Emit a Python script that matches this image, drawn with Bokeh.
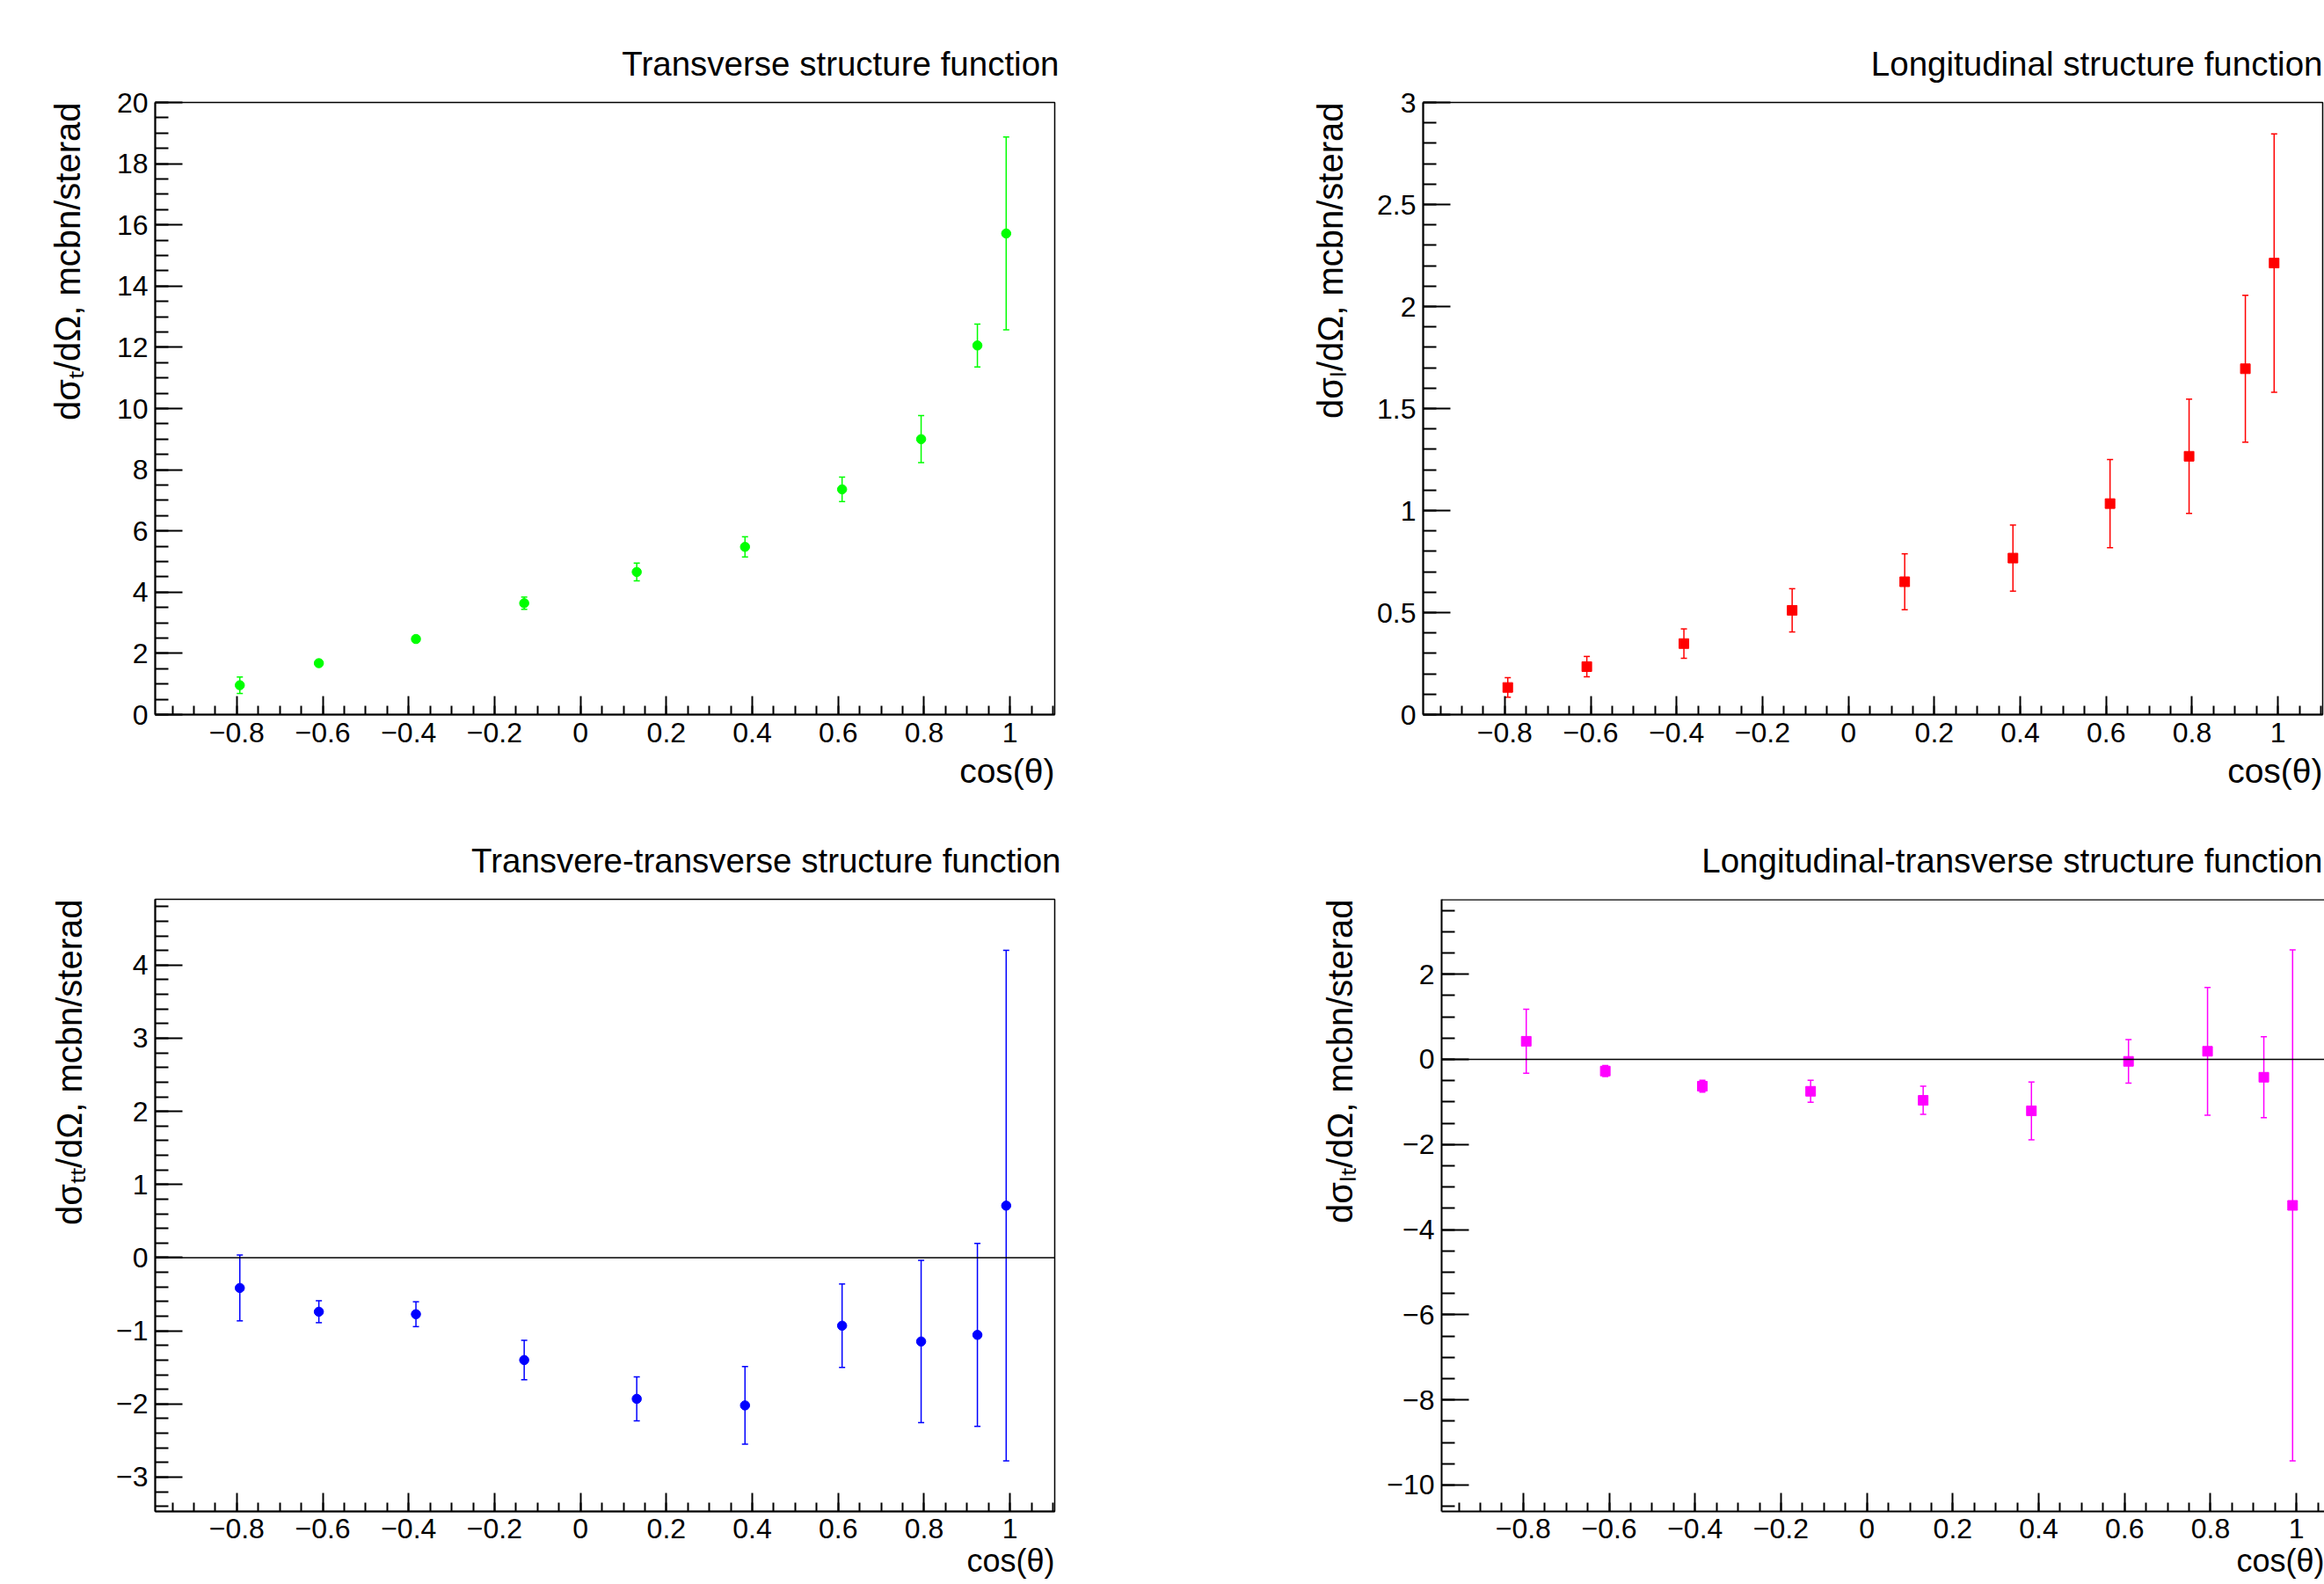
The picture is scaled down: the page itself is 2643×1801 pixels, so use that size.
import numpy as np
from bokeh.plotting import figure
from bokeh.models import (Range1d, FixedTicker, CustomJSTickFormatter, Span,
                          Whisker, TeeHead, ColumnDataSource, Title)
from bokeh.layouts import column, row
from bokeh.embed import file_html
from bokeh.resources import INLINE

# ---------------- data ----------------
cos_theta = [-0.793, -0.609, -0.383, -0.131, 0.131, 0.383, 0.609, 0.793, 0.924, 0.991]

sigma_t = [0.96, 1.68, 2.47, 3.64, 4.66, 5.48, 7.36, 9.00, 12.06, 15.72]
sigma_t_err = [0.27, 0.06, 0.08, 0.20, 0.29, 0.33, 0.40, 0.77, 0.70, 3.15]

sigma_l = [0.133, 0.235, 0.348, 0.511, 0.651, 0.767, 1.034, 1.266, 1.695, 2.213]
sigma_l_err = [0.048, 0.050, 0.072, 0.106, 0.137, 0.162, 0.216, 0.280, 0.360, 0.633]

sigma_tt = [-0.414, -0.739, -0.773, -1.40, -1.93, -2.02, -0.93, -1.146, -1.056, 0.711]
sigma_tt_err = [0.45, 0.15, 0.17, 0.27, 0.30, 0.53, 0.57, 1.11, 1.25, 3.49]

sigma_lt = [0.425, -0.275, -0.63, -0.75, -0.963, -1.21, -0.047, 0.19, -0.42, -3.43]
sigma_lt_err = [0.75, 0.13, 0.14, 0.26, 0.33, 0.68, 0.51, 1.50, 0.95, 6.00]

titles = ["Transverse structure function",
          "Longitudinal structure function",
          "Transvere-transverse structure function",
          "Longitudinal-transverse structure function"]
y_titles = ["d\u03c3\u209c/d\u03a9, mcbn/sterad",
            "d\u03c3\u2097/d\u03a9, mcbn/sterad",
            "d\u03c3\u209c\u209c/d\u03a9, mcbn/sterad",
            "d\u03c3\u2097\u209c/d\u03a9, mcbn/sterad"]
x_title = "cos(\u03b8)"

x_major = [-0.8, -0.6, -0.4, -0.2, 0, 0.2, 0.4, 0.6, 0.8, 1]
y_major_t = [0, 2, 4, 6, 8, 10, 12, 14, 16, 18, 20]
y_major_l = [0, 0.5, 1, 1.5, 2, 2.5, 3]
y_major_tt = [-3, -2, -1, 0, 1, 2, 3, 4]
y_major_lt = [-10, -8, -6, -4, -2, 0, 2]

# ---------------- style / geometry ----------------
FONT = "Liberation Sans"
TITLE_SIZE = "38.5px"
YT_SIZE = "40px"
TICK_SIZE = "32px"

fmt_code = """
const v = Math.round(tick*1000)/1000;
return v.toString().replace('-', '\u2212');
"""


def minor(a, b, step):
    return [round(v, 4) for v in np.arange(a, b + step / 2, step)]


def text_title(text, size, standoff, offset=0):
    return Title(text=text, align="right", text_font=FONT, text_font_size=size,
                 text_font_style="normal", text_color="black",
                 standoff=standoff, offset=offset)


def panel(origin, size, frame, xr, yr, xs, ys, yerr, color, marker, msize,
          y_major, y_minor, title, ytitle, title_offset, y_standoff,
          x_tick_standoff, x_standoff, xt_size, zero_line=False, outline=True):
    ox, oy = origin
    w, h = size
    fl, ft, fr, fb = frame
    p = figure(width=w, height=h, x_range=Range1d(*xr), y_range=Range1d(*yr),
               output_backend="svg", toolbar_location=None,
               min_border_left=fl - ox, min_border_right=ox + w - fr,
               min_border_top=ft - oy, min_border_bottom=oy + h - fb,
               background_fill_color="white", border_fill_color="white")
    p.xgrid.visible = False
    p.ygrid.visible = False
    if outline:
        p.outline_line_color = "black"
        p.outline_line_width = 1.5
    else:
        p.outline_line_color = None
        p.add_layout(Span(location=yr[1], dimension="width", line_color="black",
                          line_width=2.5))

    # main title (ROOT style: right aligned, plain)
    p.title.text = title
    p.title.align = "right"
    p.title.text_font = FONT
    p.title.text_font_size = TITLE_SIZE
    p.title.text_font_style = "normal"
    p.title.text_color = "black"
    p.title.standoff = 46
    p.title.offset = title_offset

    fmt = CustomJSTickFormatter(code=fmt_code)
    p.xaxis.ticker = FixedTicker(ticks=x_major, minor_ticks=minor(-0.95, 1.10, 0.05))
    p.yaxis.ticker = FixedTicker(ticks=y_major, minor_ticks=y_minor)
    for ax in (p.xaxis[0], p.yaxis[0]):
        ax.formatter = fmt
        ax.axis_line_color = "black"
        ax.axis_line_width = 2
        ax.major_tick_line_color = "black"
        ax.minor_tick_line_color = "black"
        ax.major_tick_line_width = 2
        ax.minor_tick_line_width = 2
        ax.major_tick_out = 0
        ax.minor_tick_out = 0
        ax.major_label_text_font = FONT
        ax.major_label_text_font_size = TICK_SIZE
        ax.major_label_text_color = "black"
    p.xaxis.major_tick_in = 21
    p.xaxis.minor_tick_in = 10
    p.yaxis.major_tick_in = 31
    p.yaxis.minor_tick_in = 15
    p.xaxis.major_label_standoff = x_tick_standoff
    p.yaxis.major_label_standoff = 8

    # axis titles, right/top aligned like ROOT
    p.add_layout(text_title(ytitle, YT_SIZE, y_standoff), "left")
    p.add_layout(text_title(x_title, xt_size, x_standoff), "below")

    if zero_line:
        p.add_layout(Span(location=0, dimension="width", line_color="black",
                          line_width=1.5))

    up = [y + e for y, e in zip(ys, yerr)]
    lo = [y - e for y, e in zip(ys, yerr)]
    src = ColumnDataSource(dict(x=xs, upper=up, lower=lo))
    p.add_layout(Whisker(source=src, base="x", upper="upper", lower="lower",
                         dimension="height", line_color=color, line_width=1.5,
                         upper_head=TeeHead(size=7, line_color=color, line_width=1.5),
                         lower_head=TeeHead(size=7, line_color=color, line_width=1.5)))
    p.scatter(xs, ys, marker=marker, size=msize, fill_color=color, line_color=color)
    return p


XR = (-0.99, 1.104)
XR4 = (-0.99, -0.99 + 1004 * (XR[1] - XR[0]) / 1023)

p1 = panel((0, 0), (1300, 930), (176, 116, 1199, 812), XR, (0, 20),
           cos_theta, sigma_t, sigma_t_err, "#00ff00", "circle", 10.5,
           y_major_t, minor(0, 20, 0.5), titles[0], y_titles[0],
           -5, 62, 9, 13, "39px")
p2 = panel((1300, 0), (1343, 930), (1618, 116, 2641, 812), XR, (0, 3),
           cos_theta, sigma_l, sigma_l_err, "#ff0000", "square", 11,
           y_major_l, minor(0, 3, 0.1), titles[1], y_titles[1],
           0, 58, 9, 13, "39px")
p3 = panel((0, 930), (1300, 871), (176, 1022, 1199, 1718), XR, (-3.47, 4.90),
           cos_theta, sigma_tt, sigma_tt_err, "#0000ff", "circle", 10.5,
           y_major_tt, minor(-3.4, 4.8, 0.2), titles[2], y_titles[2],
           -7, 58, 8, 0, "36px", zero_line=True)
p4 = panel((1300, 930), (1343, 871), (1639, 1022, 2643, 1718), XR4, (-10.62, 3.76),
           cos_theta, sigma_lt, sigma_lt_err, "#ff00ff", "square", 11,
           y_major_lt, minor(-10.5, 3.5, 0.5), titles[3], y_titles[3],
           2, 57, 8, 0, "36px", zero_line=True, outline=False)

layout = column(row(p1, p2), row(p3, p4))
open("out.html", "w").write(file_html(layout, INLINE))
